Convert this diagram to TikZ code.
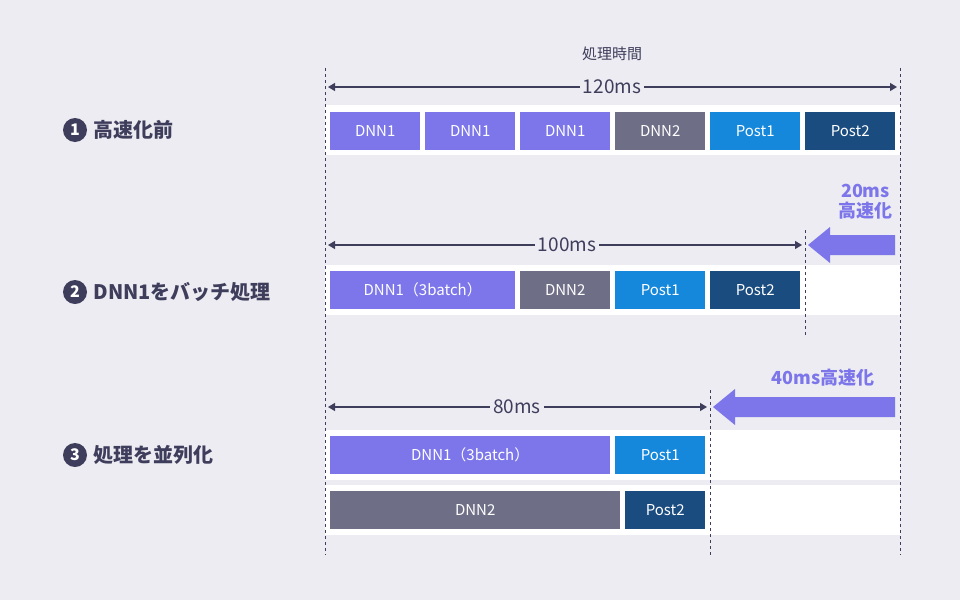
\documentclass[tikz,border=0pt]{standalone}
\usepackage{fontspec}
\setmainfont{Noto Sans CJK JP}
\usetikzlibrary{arrows.meta}
\definecolor{bg}{HTML}{ECECF2}
\definecolor{pu}{HTML}{7C76EA}
\definecolor{gr}{HTML}{6E6F87}
\definecolor{bl}{HTML}{1588DC}
\definecolor{nv}{HTML}{1B4C80}
\definecolor{tx}{HTML}{3F3D5C}
\tikzset{x=1pt,y=-1pt,
 blk/.style={fill=#1,draw=none,inner sep=0,text=white,font=\fontsize{15}{15}\selectfont},
 strip/.style={fill=white,draw=none},
 vl/.style={draw=tx,dashed,line width=1pt},
 dim/.style={draw=tx,line width=1.2pt,{Triangle[length=7pt,width=8pt]}-{Triangle[length=7pt,width=8pt]}},
 lbl/.style={text=tx,font=\fontsize{20}{20}\selectfont\bfseries,anchor=west},
 num/.style={circle,fill=tx,text=white,minimum size=24pt,inner sep=0,font=\fontsize{16}{16}\selectfont\bfseries},
 dt/.style={fill=bg,text=tx,font=\fontsize{19}{19}\selectfont,inner sep=3pt},
 acc/.style={text=pu,font=\fontsize{18}{20}\selectfont\bfseries,align=center},
 fat/.style={fill=pu,draw=none}}
\newcommand\bx[6]{\node[blk=#6,minimum width=#3-#2,minimum height=#5-#4,anchor=north west] (#1) at (#2,#4) {#1x};}
\begin{document}
\begin{tikzpicture}
\fill[bg] (0,0) rectangle (960,600);
\useasboundingbox (0,0) rectangle (960,600);
% strips
\fill[strip] (325,105) rectangle (900,155);
\fill[strip] (325,265) rectangle (900,315);
\fill[strip] (325,430) rectangle (900,480);
\fill[strip] (325,485) rectangle (900,535);
% row1
\foreach \n/\a/\b/\c/\t in {a/330/420/pu/DNN1,b/425/515/pu/DNN1,c/520/610/pu/DNN1,d/615/705/gr/DNN2,e/710/800/bl/Post1,f/805/895/nv/Post2}
 \node[blk=\c,minimum width=\b-\a,minimum height=38,anchor=north west] (r1\n) at (\a,112) {\t};
\foreach \n/\a/\b/\c/\t in {a/330/515/pu/DNN1（3batch）,b/520/610/gr/DNN2,c/615/705/bl/Post1,d/710/800/nv/Post2}
 \node[blk=\c,minimum width=\b-\a,minimum height=38,anchor=north west] (r2\n) at (\a,271) {\t};
\node[blk=pu,minimum width=280,minimum height=38,anchor=north west] (r3a) at (330,436) {DNN1（3batch）};
\node[blk=bl,minimum width=90,minimum height=38,anchor=north west] (r3b) at (615,436) {Post1};
\node[blk=gr,minimum width=290,minimum height=38,anchor=north west] (r4a) at (330,491) {DNN2};
\node[blk=nv,minimum width=80,minimum height=38,anchor=north west] (r4b) at (625,491) {Post2};
% dashed lines
\coordinate (L0) at (325,68); \coordinate (L1) at (325,555);
\coordinate (R0) at (900,68); \coordinate (R1) at (900,555);
\coordinate (M0) at (805,230); \coordinate (M1) at (805,335);
\coordinate (N0) at (710,390); \coordinate (N1) at (710,555);
\draw[vl] (L0)--(L1); \draw[vl] (R0)--(R1); \draw[vl] (M0)--(M1); \draw[vl] (N0)--(N1);
% dims
\node[text=tx,font=\fontsize{15}{15}\selectfont] (title) at (612,54) {処理時間};
\coordinate (d1a) at (328,87); \coordinate (d1b) at (897,87);
\draw[dim] (d1a)--(d1b); \node[dt] (d1) at (612,87) {120ms};
\coordinate (d2a) at (328,245); \coordinate (d2b) at (802,245);
\draw[dim] (d2a)--(d2b); \node[dt] (d2) at (567,245) {100ms};
\coordinate (d3a) at (328,407); \coordinate (d3b) at (707,407);
\draw[dim] (d3a)--(d3b); \node[dt] (d3) at (517,407) {80ms};
% fat arrows
\fill[fat] (895,235)--(830,235)--(830,227)--(808,245)--(830,263)--(830,255)--(895,255)--cycle;
\fill[fat] (895,397)--(735,397)--(735,389)--(713,407)--(735,425)--(735,417)--(895,417)--cycle;
\node[acc,anchor=east] (s20) at (896,202) {20ms\\高速化};
\node[acc,anchor=east] (s40) at (878,378) {40ms高速化};
% labels
\node[num] (n1) at (75,130) {1}; \node[lbl] (t1) at (90,130) {高速化前};
\node[num] (n2) at (75,292) {2}; \node[lbl] (t2) at (90,292) {DNN1をバッチ処理};
\node[num] (n3) at (75,455) {3}; \node[lbl] (t3) at (90,455) {処理を並列化};
\end{tikzpicture}
\end{document}
